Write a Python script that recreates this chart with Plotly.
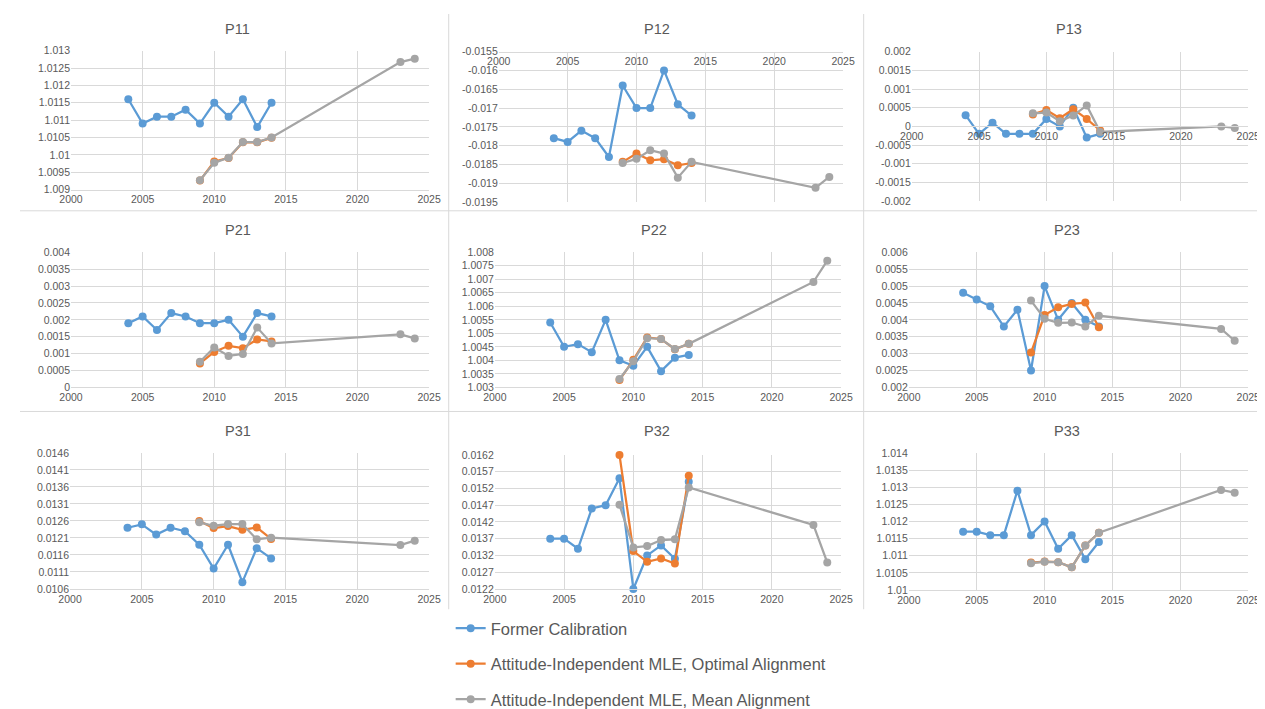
import numpy as np
import plotly.graph_objects as go

# ---------------- data ----------------
years_former = [2004, 2005, 2006, 2007, 2008, 2009, 2010, 2011, 2012, 2013, 2014]
years_optimal = [2009, 2010, 2011, 2012, 2013, 2014]
years_mean = [2009, 2010, 2011, 2012, 2013, 2014, 2023, 2024]

series_names = ["Former Calibration",
                "Attitude-Independent MLE, Optimal Alignment",
                "Attitude-Independent MLE, Mean Alignment"]

p11_former = [1.0116, 1.0109, 1.0111, 1.0111, 1.0113, 1.0109, 1.0115, 1.0111, 1.0116, 1.0108, 1.0115]
p11_optimal = [1.00926, 1.00981, 1.00991, 1.01036, 1.01036, 1.01049]
p11_mean = [1.00927, 1.00977, 1.00992, 1.01037, 1.01037, 1.0105, 1.01267, 1.01277]

p12_former = [-0.0178, -0.0179, -0.0176, -0.0178, -0.0183, -0.0164, -0.0170, -0.0170, -0.0160, -0.0169, -0.0172]
p12_optimal = [-0.01843, -0.01821, -0.01839, -0.01836, -0.01852, -0.01846]
p12_mean = [-0.01846, -0.01835, -0.01812, -0.01821, -0.01885, -0.01843, -0.01912, -0.01883]

p13_former = [0.0003, -0.0002, 0.0001, -0.0002, -0.0002, -0.0002, 0.0002, 0.0, 0.0005, -0.0003, -0.0002]
p13_optimal = [0.00032, 0.00044, 0.00022, 0.00046, 0.0002, -0.00011]
p13_mean = [0.00035, 0.00037, 0.00014, 0.00029, 0.00056, -0.00015, 0.0, -0.00004]

p21_former = [0.0019, 0.0021, 0.0017, 0.0022, 0.0021, 0.0019, 0.0019, 0.0020, 0.0015, 0.0022, 0.0021]
p21_optimal = [0.00071, 0.00105, 0.00123, 0.00116, 0.00142, 0.00136]
p21_mean = [0.00076, 0.00118, 0.00093, 0.00099, 0.00177, 0.0013, 0.00157, 0.00145]

p22_former = [1.0054, 1.0045, 1.0046, 1.0043, 1.0055, 1.0040, 1.0038, 1.0045, 1.0036, 1.0041, 1.0042]
p22_optimal = [1.00327, 1.00402, 1.00485, 1.00479, 1.00441, 1.00461]
p22_mean = [1.00331, 1.00397, 1.00482, 1.00479, 1.00442, 1.00461, 1.0069, 1.00769]

p23_former = [0.0048, 0.0046, 0.0044, 0.0038, 0.0043, 0.0025, 0.0050, 0.0040, 0.0045, 0.0040, 0.0038]
p23_optimal = [0.00303, 0.00414, 0.00437, 0.00447, 0.00451, 0.00378]
p23_mean = [0.00457, 0.00403, 0.00391, 0.00392, 0.0038, 0.00412, 0.00373, 0.00338]

p31_former = [0.0124, 0.0125, 0.0122, 0.0124, 0.0123, 0.0119, 0.0112, 0.0119, 0.0108, 0.0118, 0.0115]
p31_optimal = [0.0126, 0.01239, 0.01245, 0.01234, 0.01241, 0.01207]
p31_mean = [0.01256, 0.01246, 0.01251, 0.01251, 0.01206, 0.01211, 0.01189, 0.01202]

p32_former = [0.0137, 0.0137, 0.0134, 0.0146, 0.0147, 0.0155, 0.0122, 0.0132, 0.0135, 0.0131, 0.0154]
p32_optimal = [0.0162, 0.01333, 0.01301, 0.01311, 0.01296, 0.01558]
p32_mean = [0.01471, 0.01344, 0.01348, 0.01366, 0.01368, 0.01523, 0.01411, 0.01299]

p33_former = [1.0117, 1.0117, 1.0116, 1.0116, 1.0129, 1.0116, 1.0120, 1.0112, 1.0116, 1.0109, 1.0114]
p33_optimal = [1.0108, 1.01083, 1.01081, 1.01066, 1.0113, 1.01167]
p33_mean = [1.01078, 1.01082, 1.01081, 1.01066, 1.0113, 1.01167, 1.01292, 1.01284]

panel_titles = ["P11", "P12", "P13", "P21", "P22", "P23", "P31", "P32", "P33"]
y_min = [1.009, -0.0195, -0.002, 0.0, 1.003, 0.002, 0.0106, 0.0122, 1.010]
y_max = [1.013, -0.0155, 0.002, 0.004, 1.008, 0.006, 0.0146, 0.0162, 1.014]
y_step = 0.0005
x_ticks = [2000, 2005, 2010, 2015, 2020, 2025]

former_data = [p11_former, p12_former, p13_former, p21_former, p22_former, p23_former, p31_former, p32_former, p33_former]
optimal_data = [p11_optimal, p12_optimal, p13_optimal, p21_optimal, p22_optimal, p23_optimal, p31_optimal, p32_optimal, p33_optimal]
mean_data = [p11_mean, p12_mean, p13_mean, p21_mean, p22_mean, p23_mean, p31_mean, p32_mean, p33_mean]

# ---------------- layout constants ----------------
W, H = 1265, 709
colors = ["#5B9BD5", "#ED7D31", "#A5A5A5"]
grid_c = "#D9D9D9"
text_c = "#595959"
FONT = "Liberation Sans, Arial, sans-serif"
TICK_SIZE = 10.5

# plot-area boxes in pixels: left, right, top, bottom
boxes = [(52, 417, 38, 182), (488, 839, 39, 195), (909, 1252, 39, 194),
         (52, 417, 247, 387), (484, 837, 247, 387), (906, 1252, 247, 387),
         (51, 417, 455, 596), (484, 837, 457, 596), (906, 1252, 455, 597)]
# chart centres for titles (px)
title_pos = [(222, 16), (649, 16), (1069, 16),
             (222, 224), (646, 224), (1067, 224),
             (222, 432), (649, 432), (1067, 432)]

fig = go.Figure()
layout = {}
annotations = []

for i in range(9):
    k = "" if i == 0 else str(i + 1)
    xa, ya = "x" + k, "y" + k
    sets = [(years_former, former_data[i]), (years_optimal, optimal_data[i]), (years_mean, mean_data[i])]
    for s, (xs, ys) in enumerate(sets):
        fig.add_trace(go.Scatter(
            x=xs, y=ys, xaxis=xa, yaxis=ya, mode="lines+markers",
            name=series_names[s], legendgroup=series_names[s], showlegend=(i == 0),
            line=dict(color=colors[s], width=2.25),
            marker=dict(size=8, color=colors[s]),
            cliponaxis=False, hoverinfo="x+y"))
    L, R, T, B = boxes[i]
    xd = [L / W, R / W]
    yd = [1 - B / H, 1 - T / H]
    lo, hi = y_min[i], y_max[i]
    cross = min(max(0.0, lo), hi)
    pos = yd[0] + (cross - lo) / (hi - lo) * (yd[1] - yd[0])
    yt = np.round(np.arange(lo, hi + y_step / 2, y_step), 6)
    ytext = [f"{v:g}" if abs(v) > 1e-12 else "0" for v in yt]
    layout["xaxis" + k] = dict(
        domain=xd, range=[2000, 2025], anchor="free", position=pos,
        tickvals=x_ticks, ticktext=[str(t) for t in x_ticks],
        showgrid=True, gridcolor=grid_c, gridwidth=1,
        showline=True, linecolor=grid_c, linewidth=1, zeroline=False,
        ticks="", tickfont=dict(family=FONT, size=TICK_SIZE, color=text_c), fixedrange=True)
    layout["yaxis" + k] = dict(
        domain=yd, range=[lo, hi], anchor=xa,
        tickvals=list(yt), ticktext=ytext,
        showgrid=True, gridcolor=grid_c, gridwidth=1,
        showline=False, zeroline=False,
        ticks="", tickfont=dict(family=FONT, size=TICK_SIZE, color=text_c), fixedrange=True)
    tx, ty = title_pos[i]
    annotations.append(dict(text=panel_titles[i], x=tx / W, y=1 - ty / H, xref="paper", yref="paper",
                            xanchor="center", yanchor="middle", showarrow=False,
                            font=dict(family=FONT, size=14.5, color=text_c)))

# chart-object separators
shapes = []
for xs in [437, 860]:
    shapes.append(dict(type="line", xref="paper", yref="paper", x0=xs / W, x1=xs / W,
                       y0=1 - 617 / H, y1=1, line=dict(color=grid_c, width=1)))
for ys in [204, 412]:
    shapes.append(dict(type="line", xref="paper", yref="paper", x0=0, x1=1,
                       y0=1 - ys / H, y1=1 - ys / H, line=dict(color=grid_c, width=1)))

fig.update_layout(
    width=W, height=H, margin=dict(l=0, r=0, t=0, b=0),
    paper_bgcolor="white", plot_bgcolor="white",
    annotations=annotations, shapes=shapes,
    legend=dict(x=439 / W, y=1 - 619 / H, xanchor="left", yanchor="top",
                orientation="v", traceorder="grouped", tracegroupgap=11,
                font=dict(family=FONT, size=16.5, color=text_c),
                bgcolor="rgba(0,0,0,0)", borderwidth=0),
    **layout)

fig.write_html("out.html")
